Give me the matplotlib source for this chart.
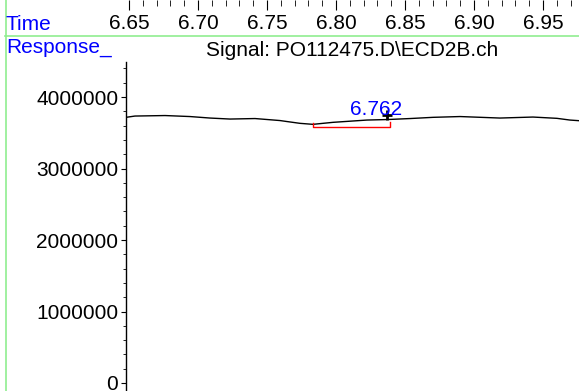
import numpy as np
import matplotlib
matplotlib.use("Agg")
import matplotlib.pyplot as plt
from matplotlib.lines import Line2D
from matplotlib.ticker import MultipleLocator, FixedLocator

plt.rcParams['font.family'] = ['Liberation Sans', 'DejaVu Sans']

# signal trace
time = [6.6478, 6.6543, 6.6761, 6.6942, 6.7087, 6.7232, 6.7413, 6.7594, 6.7645,
        6.7739, 6.7833, 6.7978, 6.8225, 6.8370, 6.8536, 6.8703, 6.8899, 6.9188,
        6.9427, 6.9601, 6.9695, 6.9761]
response = [3.716e6, 3.734e6, 3.741e6, 3.727e6, 3.706e6, 3.692e6, 3.699e6, 3.671e6,
            3.657e6, 3.632e6, 3.618e6, 3.646e6, 3.678e6, 3.685e6, 3.699e6, 3.716e6,
            3.727e6, 3.706e6, 3.720e6, 3.702e6, 3.678e6, 3.669e6]

# integration baseline and peak marker
base_t = [6.7833, 6.7833, 6.8391, 6.8391]
base_v = [3.632e6, 3.585e6, 3.585e6, 3.650e6]
peak_t = 6.8370
peak_v = 3.748e6
label_t = 6.8290
peak_label = "6.762"

x_ticks = [6.65, 6.70, 6.75, 6.80, 6.85, 6.90, 6.95]
y_ticks = [0, 1000000, 2000000, 3000000, 4000000]
title = "Signal: PO112475.D\\ECD2B.ch"

W, H = 579, 391
fig = plt.figure(figsize=(W / 100, H / 100), dpi=100)

xmin, xmax = 6.6478, 6.9761
ymin, ymax = -0.112e6, 4.49e6
fs = 15

ax = fig.add_axes([126 / W, 0, (W - 126) / W, (H - 62) / H])
ax.plot(time, response, color='black', lw=1.0)
ax.plot(base_t, base_v, color='red', lw=1.0)
ax.plot(peak_t, peak_v, marker='+', color='black', ms=7.5, mew=2)
ax.text(label_t, peak_v, peak_label, color='blue', fontsize=fs,
        ha='center', va='baseline')
ax.set_xlim(xmin, xmax)
ax.set_ylim(ymin, ymax)
for s in ['top', 'right', 'bottom']:
    ax.spines[s].set_visible(False)
ax.spines['left'].set_linewidth(1.0)
ax.set_xticks([])
ax.yaxis.set_major_locator(FixedLocator(y_ticks))
ax.yaxis.set_minor_locator(MultipleLocator(200000))
ax.set_yticklabels([str(v) for v in y_ticks])
ax.tick_params(axis='y', which='major', length=3.5, width=0.8, labelsize=fs, pad=2)
ax.tick_params(axis='y', which='minor', length=2, width=0.6)

# time scale along the top of the figure
axt = fig.add_axes([126 / W, 0.999, (W - 126) / W, 0.001])
axt.set_xlim(xmin, xmax)
axt.xaxis.set_major_locator(FixedLocator(x_ticks))
axt.xaxis.set_minor_locator(MultipleLocator(0.01))
axt.set_xticklabels(["%.2f" % v for v in x_ticks])
axt.tick_params(axis='x', which='major', direction='out', length=7, width=0.8,
                labelsize=fs, pad=3)
axt.tick_params(axis='x', which='minor', direction='out', length=4, width=0.6)
axt.set_yticks([])
for s in axt.spines.values():
    s.set_visible(False)
axt.patch.set_visible(False)

# labels and frame lines
fig.text(5 / W, 1 - 30.5 / H, "Time", color='blue', fontsize=fs, ha='left', va='baseline')
fig.text(6 / W, 1 - 53 / H, "Response_", color='blue', fontsize=fs, ha='left', va='baseline')
fig.text(352 / W, 1 - 56.5 / H, title, fontsize=fs, ha='center', va='baseline')
fig.add_artist(Line2D([5 / W, 1], [1 - 35.5 / H, 1 - 35.5 / H], color='#90ee90', lw=1.2))
fig.add_artist(Line2D([5.5 / W, 5.5 / W], [0, 1], color='#90ee90', lw=1.2))

fig.savefig("out.png", dpi=100)
